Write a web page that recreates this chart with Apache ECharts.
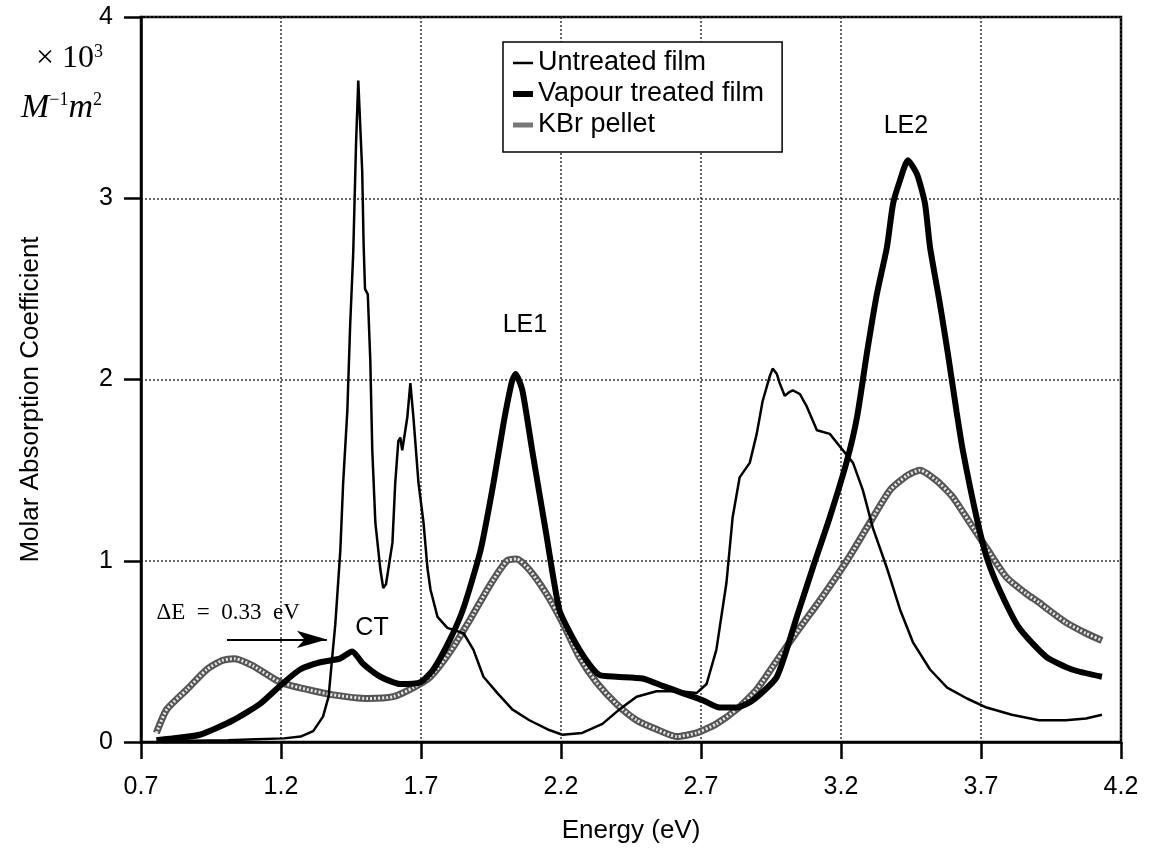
<!DOCTYPE html>
<html>
<head>
<meta charset="utf-8">
<script src="https://cdn.jsdelivr.net/npm/echarts@6/dist/echarts.min.js"></script>
<style>
  html, body { margin: 0; padding: 0; background: #fff; }
  #chart { width: 1158px; height: 849px; }
</style>
</head>
<body>
<div id="chart"></div>
<script>
// 数据: [energy (eV), coefficient (x10^3 M^-1 m^2)]
const untreated = [
  [0.81,0.005],[1.01,0.01],[1.11,0.015],[1.21,0.02],[1.27,0.03],[1.315,0.06],[1.35,0.14],[1.37,0.25],
  [1.383,0.47],[1.394,0.65],[1.405,0.9],[1.412,1.06],[1.422,1.43],[1.437,1.83],[1.447,2.3],[1.458,2.7],
  [1.463,3.0],[1.468,3.3],[1.476,3.65],[1.483,3.4],[1.49,3.15],[1.495,2.75],[1.5,2.5],[1.51,2.47],
  [1.519,2.1],[1.526,1.61],[1.537,1.21],[1.555,0.95],[1.565,0.85],[1.575,0.87],[1.583,0.95],[1.598,1.1],
  [1.608,1.43],[1.619,1.66],[1.626,1.68],[1.633,1.61],[1.651,1.79],[1.662,1.98],[1.669,1.99],[1.673,1.79],
  [1.691,1.43],[1.709,1.21],[1.723,0.96],[1.734,0.84],[1.759,0.69],[1.794,0.63],[1.852,0.6],[1.887,0.51],
  [1.923,0.36],[1.973,0.27],[2.026,0.18],[2.087,0.12],[2.158,0.066],[2.205,0.04],[2.276,0.05],[2.348,0.1],
  [2.409,0.18],[2.47,0.25],[2.541,0.28],[2.623,0.28],[2.684,0.27],[2.72,0.32],[2.755,0.51],[2.791,0.88],
  [2.813,1.24],[2.838,1.46],[2.874,1.54],[2.899,1.7],[2.92,1.88],[2.946,2.02],[2.956,2.06],[2.971,2.03],
  [2.981,1.98],[2.999,1.91],[3.015,1.93],[3.028,1.94],[3.053,1.92],[3.078,1.85],[3.114,1.72],[3.16,1.7],
  [3.196,1.63],[3.243,1.54],[3.278,1.39],[3.314,1.18],[3.364,0.96],[3.411,0.73],[3.457,0.55],[3.518,0.4],
  [3.579,0.3],[3.65,0.24],[3.72,0.19],[3.81,0.15],[3.907,0.12],[4.003,0.12],[4.075,0.13],[4.132,0.15]
]

const vapour = [
  [0.755,0.01],[0.81,0.02],[0.91,0.04],[1.029,0.12],[1.125,0.21],[1.204,0.32],[1.268,0.4],[1.34,0.44],
  [1.41,0.46],[1.454,0.5],[1.494,0.43],[1.555,0.36],[1.626,0.32],[1.698,0.33],[1.744,0.4],[1.805,0.57],
  [1.852,0.74],[1.913,1.06],[1.959,1.43],[1.995,1.76],[2.025,1.99],[2.038,2.03],[2.062,1.94],[2.097,1.61],
  [2.147,1.15],[2.194,0.73],[2.24,0.58],[2.291,0.45],[2.337,0.37],[2.398,0.36],[2.491,0.35],[2.563,0.31],
  [2.634,0.27],[2.706,0.23],[2.767,0.19],[2.827,0.19],[2.885,0.23],[2.971,0.36],[3.042,0.69],[3.099,0.96],
  [3.16,1.24],[3.221,1.55],[3.257,1.79],[3.293,2.15],[3.328,2.47],[3.364,2.73],[3.386,2.97],[3.411,3.1],
  [3.439,3.21],[3.472,3.13],[3.5,2.97],[3.518,2.73],[3.553,2.42],[3.582,2.14],[3.613,1.82],[3.635,1.61],
  [3.684,1.24],[3.72,1.02],[3.766,0.84],[3.836,0.63],[3.933,0.47],[4.025,0.4],[4.132,0.36]
]

const kbr = [
  [0.755,0.05],[0.792,0.18],[0.864,0.29],[0.935,0.4],[0.99,0.45],[1.035,0.46],[1.1,0.42],[1.197,0.33],
  [1.293,0.29],[1.386,0.26],[1.508,0.24],[1.601,0.25],[1.673,0.3],[1.734,0.36],[1.805,0.5],[1.877,0.68],
  [1.948,0.87],[2.007,1.0],[2.042,1.01],[2.087,0.95],[2.147,0.82],[2.205,0.66],[2.265,0.47],[2.326,0.33],
  [2.398,0.21],[2.47,0.12],[2.541,0.07],[2.613,0.03],[2.684,0.05],[2.755,0.1],[2.827,0.18],[2.899,0.29],
  [2.971,0.45],[3.053,0.63],[3.124,0.78],[3.221,1.0],[3.303,1.21],[3.375,1.39],[3.436,1.47],[3.482,1.5],
  [3.543,1.44],[3.6,1.35],[3.66,1.21],[3.72,1.07],[3.79,0.91],[3.86,0.82],[3.907,0.77],[3.932,0.74],
  [4.003,0.66],[4.075,0.6],[4.132,0.56]
]

const seriesNames = ['Untreated film', 'Vapour treated film', 'KBr pellet']
const legendIcons = [
  'path://M0,0 L20,0 L20,2.5 L0,2.5 Z',
  'path://M0,0 L20,0 L20,6 L0,6 Z',
  'path://M0,0 L20,0 L20,5 L0,5 Z'
]

// 峰标注 [x, y, text]
const peakLabels = [
  [2.071, 2.30, 'LE1'],
  [3.432, 3.40, 'LE2'],
  [1.525, 0.63, 'CT']
]
const shiftLabel = [1.011, 0.71, 'ΔE  =  0.33  eV']
const shiftArrow = [[1.007, 0.566], [1.364, 0.566]]

const sans = '"Liberation Sans", Arial, sans-serif'
const serif = '"Liberation Serif", "Times New Roman", serif'

const chart = echarts.init(document.getElementById('chart'))

const gridLine = { show: true, lineStyle: { color: '#333', width: 1.5, type: [2, 2] } }

const option = {
  animation: false,
  backgroundColor: '#fff',
  grid: {
    left: 141, right: 37, top: 17, bottom: 107,
    show: true, borderColor: '#000', borderWidth: 2.5
  },
  legend: {
    data: seriesNames.map((n, i) => ({ name: n, icon: legendIcons[i] })),
    orient: 'vertical',
    left: 503, top: 42,
    padding: [6, 18, 12, 10],
    itemGap: 1,
    itemWidth: 20, itemHeight: 14,
    symbolKeepAspect: true,
    borderColor: '#000', borderWidth: 1.5,
    backgroundColor: '#fff',
    textStyle: { fontFamily: sans, fontSize: 27, color: '#000', lineHeight: 30 }
  },
  xAxis: {
    type: 'value',
    min: 0.7, max: 4.2, interval: 0.5,
    name: 'Energy (eV)',
    nameLocation: 'middle',
    nameGap: 76,
    nameTextStyle: { fontFamily: sans, fontSize: 26, color: '#000' },
    axisLine: { onZero: false, lineStyle: { color: '#000', width: 2.5 } },
    axisTick: { show: true, inside: false, length: 17, lineStyle: { color: '#000', width: 2.5 } },
    axisLabel: { margin: 33, fontFamily: sans, fontSize: 25, color: '#000', formatter: v => v.toFixed(1) },
    splitLine: gridLine
  },
  yAxis: {
    type: 'value',
    min: 0, max: 4, interval: 1,
    name: 'Molar Absorption Coefficient',
    nameLocation: 'middle',
    nameGap: 97,
    nameTextStyle: { fontFamily: sans, fontSize: 26, color: '#000', padding: [0, 40, 0, 0] },
    axisLine: { onZero: false, lineStyle: { color: '#000', width: 2.5 } },
    axisTick: { show: true, inside: false, length: 17, lineStyle: { color: '#000', width: 2.5 } },
    axisLabel: { margin: 28, fontFamily: sans, fontSize: 25, color: '#000' },
    splitLine: gridLine
  },
  series: [
    {
      name: 'KBr pellet',
      type: 'line',
      data: kbr,
      smooth: 0.2,
      symbol: 'none',
      lineStyle: { color: '#555', width: 7 },
      itemStyle: { color: '#777' },
      z: 2
    },
    {
      name: 'KBr pellet texture',
      type: 'line',
      data: kbr,
      smooth: 0.2,
      symbol: 'none',
      silent: true,
      lineStyle: { color: '#e6e6e6', width: 3, type: [2, 2] },
      z: 3
    },
    {
      name: 'Vapour treated film',
      type: 'line',
      data: vapour,
      smooth: 0.2,
      symbol: 'none',
      lineStyle: { color: '#000', width: 6 },
      itemStyle: { color: '#000' },
      z: 4
    },
    {
      name: 'Untreated film',
      type: 'line',
      data: untreated,
      symbol: 'none',
      lineStyle: { color: '#000', width: 2.5 },
      itemStyle: { color: '#000' },
      z: 5,
      markLine: {
        silent: true,
        symbol: ['none', 'arrow'],
        symbolSize: [13, 30],
        label: { show: false },
        lineStyle: { color: '#000', width: 2, type: 'solid' },
        data: [[{ coord: shiftArrow[0] }, { coord: shiftArrow[1] }]]
      }
    }
  ]
}

chart.setOption(option)

// 文字标注: 按数据坐标换算到像素
const toPx = c => chart.convertToPixel({ gridIndex: 0 }, [c[0], c[1]])
const graphics = peakLabels.map(p => {
  const pt = toPx(p)
  return {
    type: 'text', x: pt[0], y: pt[1], z: 20,
    style: { text: p[2], font: '25px ' + sans, fill: '#000', align: 'center', verticalAlign: 'middle' }
  }
})
const sp = toPx(shiftLabel)
graphics.push({
  type: 'text', x: sp[0], y: sp[1], z: 20,
  style: { text: shiftLabel[2], font: '23px ' + serif, fill: '#000', align: 'center', verticalAlign: 'middle' }
})
// 单位
graphics.push({
  type: 'text', x: 103, y: 59, z: 20,
  style: {
    text: '{n|× 10}{s|3}',
    align: 'right', verticalAlign: 'middle',
    rich: {
      n: { fontFamily: serif, fontSize: 32, fill: '#000' },
      s: { fontFamily: serif, fontSize: 18, fill: '#000', verticalAlign: 'top' }
    }
  }
})
graphics.push({
  type: 'text', x: 102, y: 108, z: 20,
  style: {
    text: '{i|M}{s|−1}{i|m}{s|2}',
    align: 'right', verticalAlign: 'middle',
    rich: {
      i: { fontFamily: serif, fontSize: 34, fontStyle: 'italic', fill: '#000' },
      s: { fontFamily: serif, fontSize: 18, fill: '#000', verticalAlign: 'top' }
    }
  }
})
chart.setOption({ graphic: graphics })

window.addEventListener('resize', () => chart.resize())
</script>
</body>
</html>
